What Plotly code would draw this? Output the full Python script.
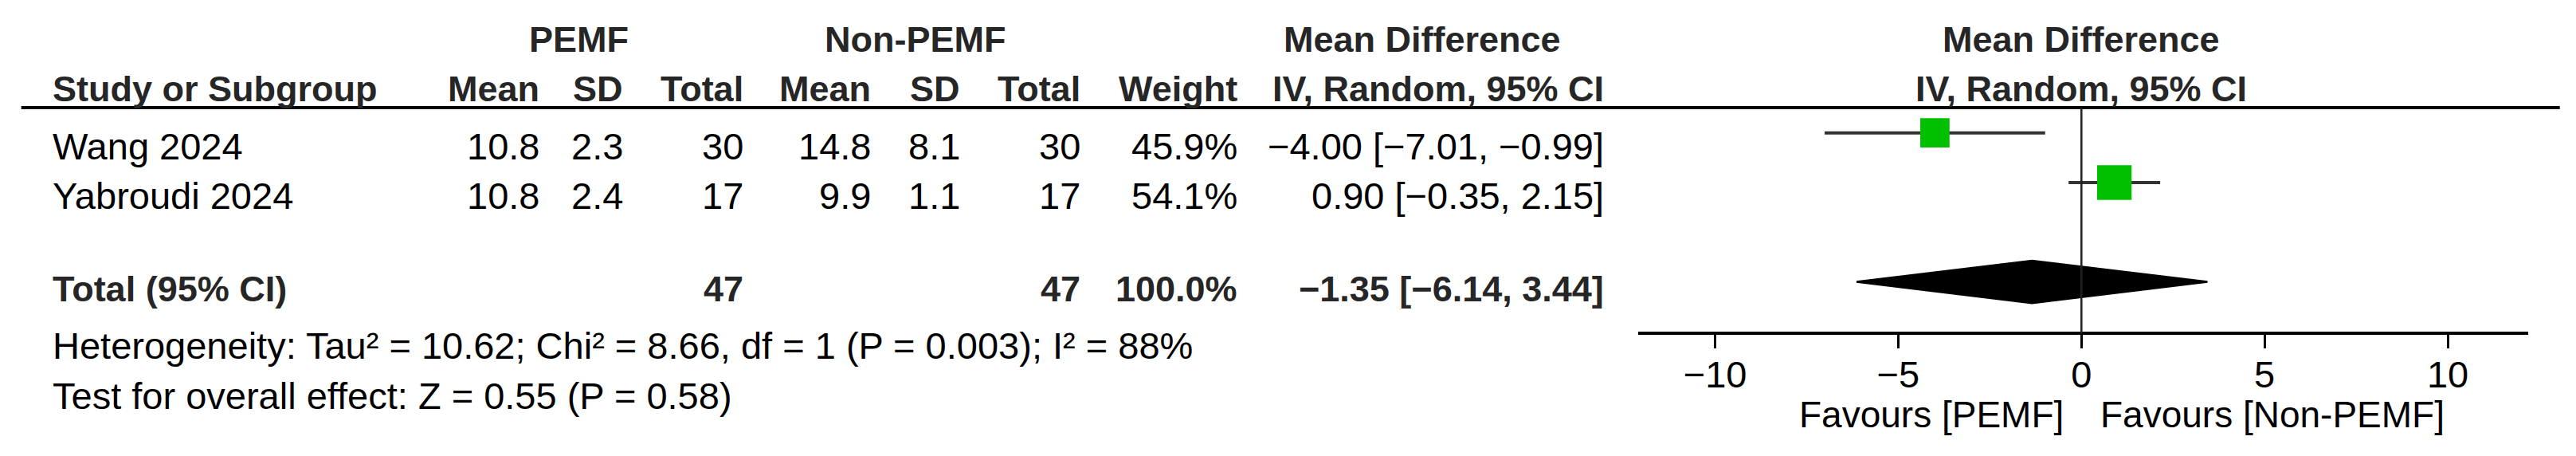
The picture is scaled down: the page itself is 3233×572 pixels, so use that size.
import plotly.graph_objects as go

# ---------------- data ----------------
studies = ["Wang 2024", "Yabroudi 2024"]
pemf_mean = [10.8, 10.8]
pemf_sd = [2.3, 2.4]
pemf_n = [30, 17]
non_mean = [14.8, 9.9]
non_sd = [8.1, 1.1]
non_n = [30, 17]
weights = [45.9, 54.1]
md = [-4.00, 0.90]
ci_low = [-7.01, -0.35]
ci_high = [-0.99, 2.15]

total_label = "Total (95% CI)"
total_pemf_n = 47
total_non_n = 47
total_weight = 100.0
pooled_md = -1.35
pooled_low = -6.14
pooled_high = 3.44

tau2 = 10.62
chi2 = 8.66
df_het = 1
p_het = 0.003
i2 = 88
z_val = 0.55
p_z = 0.58

axis_ticks = [-10, -5, 0, 5, 10]
group_left = "PEMF"
group_right = "Non-PEMF"
favours_left = "Favours [PEMF]"
favours_right = "Favours [Non-PEMF]"

# ---------------- layout constants ----------------
W, H = 3233, 572
FONT = "Liberation Sans, Arial, sans-serif"
ROW0_PX, ROW_STEP = 166.7, 62.3      # pixel centre of first row, row spacing
AXIS_PX, HEAD_LINE_PX = 418.3, 135.0
X_DOM = [2056 / W, 3172.7 / W]
X_RANGE = [-12.10, 12.19]
GREEN = "#00c000"
BOLD_COL = "#262626"

def mfmt(v):
    return f"{v:.2f}".replace("-", "\u2212")

def ci_text(m, lo, hi):
    return f"{mfmt(m)} [{mfmt(lo)}, {mfmt(hi)}]"

rows = list(range(len(studies)))
total_row = len(studies) + 1

y_top = -ROW0_PX / ROW_STEP
y_bot = (H - ROW0_PX) / ROW_STEP

fig = go.Figure()

# CI whiskers
cx, cy = [], []
for r, lo, hi in zip(rows, ci_low, ci_high):
    cx += [lo, hi, None]
    cy += [r, r, None]
fig.add_trace(go.Scatter(x=cx, y=cy, mode="lines", line=dict(color="#333333", width=4),
                         hoverinfo="skip", showlegend=False))

# study boxes (side proportional to weight)
fig.add_trace(go.Scatter(x=md, y=rows, mode="markers",
                         marker=dict(symbol="square", color=GREEN, opacity=1,
                                     size=[w * 0.8 for w in weights], line=dict(width=0)),
                         hoverinfo="skip", showlegend=False))

# pooled diamond
dh = 26.7 / ROW_STEP
fig.add_trace(go.Scatter(
    x=[pooled_low, pooled_md, pooled_high, pooled_md, pooled_low],
    y=[total_row, total_row - dh, total_row, total_row + dh, total_row],
    mode="lines", fill="toself", fillcolor="black", line=dict(color="black", width=2.5),
    hoverinfo="skip", showlegend=False))

axis_pos = 1 - AXIS_PX / H
fig.update_layout(
    width=W, height=H,
    margin=dict(l=0, r=0, t=0, b=0),
    paper_bgcolor="white", plot_bgcolor="rgba(0,0,0,0)",
    font=dict(family=FONT, color="black"),
    xaxis=dict(domain=X_DOM, range=X_RANGE, anchor="free", position=axis_pos,
               showline=True, linecolor="black", linewidth=4,
               ticks="outside", ticklen=17, tickwidth=3, tickcolor="black",
               tickvals=axis_ticks, tickfont=dict(size=47, family=FONT, color="black"),
               ticklabelstandoff=-8,
               showgrid=False, zeroline=False, fixedrange=True),
    xaxis2=dict(domain=X_DOM, range=X_RANGE, anchor="free", position=axis_pos,
                showline=False, ticks="inside", ticklen=17, tickwidth=3, tickcolor="black",
                tickvals=axis_ticks, showticklabels=False,
                showgrid=False, zeroline=False, fixedrange=True),
    yaxis=dict(domain=[0, 1], range=[y_bot, y_top], visible=False, fixedrange=True),
)

# header rule and line of no effect
fig.add_shape(type="line", xref="paper", yref="paper",
              x0=26.7 / W, x1=3212.7 / W, y0=1 - HEAD_LINE_PX / H, y1=1 - HEAD_LINE_PX / H,
              line=dict(color="black", width=4))
fig.add_shape(type="line", xref="x", yref="paper", x0=0, x1=0,
              y0=1 - HEAD_LINE_PX / H, y1=axis_pos, line=dict(color="#222222", width=2.5))

ann = []
def txt(s, x, ypx, anchor="left", bold=False, size=None, xref="paper"):
    if size is None:
        size = 45 if bold else 47
    ann.append(dict(text=(f"<b>{s}</b>" if bold else s),
                    x=(x / W if xref == "paper" else x), xref=xref,
                    y=1 - ypx / H, yref="paper",
                    xanchor=anchor, yanchor="middle", showarrow=False,
                    font=dict(family=FONT, size=size, color=(BOLD_COL if bold else "black"))))

# column right edges (px)
C_LABEL = 64
C_PM, C_PS, C_PN = 679, 784, 935
C_NM, C_NS, C_NN = 1095, 1207, 1358
C_W, C_CI = 1555, 2015

# header rows
Y_H1, Y_H2 = 49.5, 111.5
txt(group_left, 726, Y_H1, "center", True)
txt(group_right, 1148, Y_H1, "center", True)
txt("Mean Difference", 1785, Y_H1, "center", True)
txt("Mean Difference", 0, Y_H1, "center", True, xref="x")
txt("Study or Subgroup", C_LABEL, Y_H2, "left", True)
for c, s in [(C_PM, "Mean"), (C_PS, "SD"), (C_PN, "Total"),
             (C_NM, "Mean"), (C_NS, "SD"), (C_NN, "Total"),
             (C_W, "Weight"), (C_CI, "IV, Random, 95% CI")]:
    txt(s, c, Y_H2, "right", True)
txt("IV, Random, 95% CI", 0, Y_H2, "center", True, xref="x")

# study rows (text sits a little below the plotted marks)
TEXT_OFF = 16.3
for r, name, a, b, c, d, e, f, w, m, lo, hi in zip(rows, studies, pemf_mean, pemf_sd, pemf_n,
                                                     non_mean, non_sd, non_n, weights,
                                                     md, ci_low, ci_high):
    ypx = ROW0_PX + r * ROW_STEP + TEXT_OFF
    txt(name, C_LABEL, ypx)
    txt(f"{a}", C_PM, ypx, "right")
    txt(f"{b}", C_PS, ypx, "right")
    txt(f"{c}", C_PN, ypx, "right")
    txt(f"{d}", C_NM, ypx, "right")
    txt(f"{e}", C_NS, ypx, "right")
    txt(f"{f}", C_NN, ypx, "right")
    txt(f"{w:.1f}%", C_W, ypx, "right")
    txt(ci_text(m, lo, hi), C_CI, ypx, "right")

# total row
Y_T = 362.5
txt(total_label, C_LABEL, Y_T, "left", True)
txt(f"{total_pemf_n}", C_PN, Y_T, "right", True)
txt(f"{total_non_n}", C_NN, Y_T, "right", True)
txt(f"{total_weight:.1f}%", C_W, Y_T, "right", True)
txt(ci_text(pooled_md, pooled_low, pooled_high), C_CI, Y_T, "right", True)

txt(f"Heterogeneity: Tau² = {tau2:.2f}; Chi² = {chi2:.2f}, df = {df_het} (P = {p_het}); I² = {i2}%",
    C_LABEL, 433)
txt(f"Test for overall effect: Z = {z_val:.2f} (P = {p_z:.2f})", C_LABEL, 496.5)

# favours labels
txt(favours_left, 0, 520, "right", size=46, xref="x")
ann[-1]["xshift"] = -20
txt(favours_right, 0, 520, "left", size=46, xref="x")
ann[-1]["xshift"] = 22

fig.update_layout(annotations=ann)
fig.write_html("out.html", config={"displayModeBar": False},
               post_script="document.body.style.margin='0';document.body.style.overflow='hidden';")
